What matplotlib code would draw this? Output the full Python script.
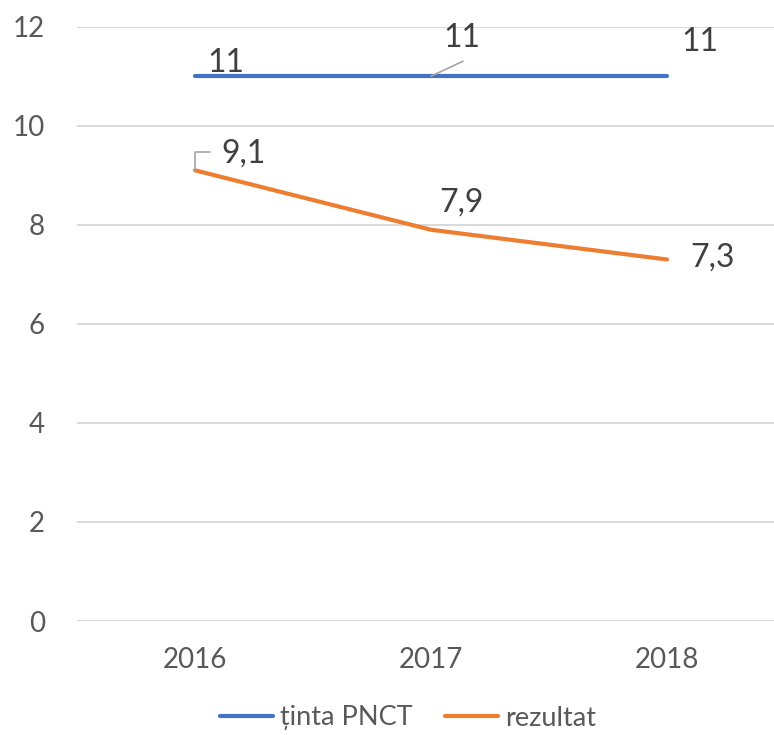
import matplotlib.pyplot as plt

years = ["2016", "2017", "2018"]
tinta = [11, 11, 11]
rezultat = [9.1, 7.9, 7.3]
tinta_labels = ["11", "11", "11"]
rezultat_labels = ["9,1", "7,9", "7,3"]

plt.rcParams['font.family'] = ['Lato', 'DejaVu Sans']

W, H = 774, 735
fig = plt.figure(figsize=(W / 100, H / 100), dpi=100)
ax = fig.add_axes([77 / W, (H - 621) / H, (785 - 77) / W, (621 - 26.7) / H])

x = list(range(len(years)))
ax.plot(x, tinta, color='#4472C4', lw=3, solid_capstyle='round', label='ținta PNCT')
ax.plot(x, rezultat, color='#ED7D31', lw=3, solid_capstyle='round', label='rezultat')

ax.set_xlim(-0.5, 2.5)
ax.set_ylim(0, 12)
ax.set_yticks(range(0, 13, 2))
ax.set_xticks(x)
ax.set_xticklabels(years)
ax.grid(axis='y', color='#D9D9D9', lw=1.4)
ax.set_axisbelow(True)
for s in ax.spines.values():
    s.set_visible(False)
ax.tick_params(axis='both', length=0, labelsize=20, labelcolor='#595959')
ax.tick_params(axis='y', pad=23)
ax.tick_params(axis='x', pad=19)

# data labels (offsets in pixels from the point)
lab_kw = dict(textcoords='offset pixels', ha='center', va='baseline',
              fontsize=23, color='#404040')
tinta_off = [(31, 4), (31, 29), (33, 25)]
rez_off = [(49, 8), (30, 18), (45, -7)]
for i in x:
    ax.annotate(tinta_labels[i], (i, tinta[i]), xytext=tinta_off[i], **lab_kw)
    ax.annotate(rezultat_labels[i], (i, rezultat[i]), xytext=rez_off[i], **lab_kw)

# leader lines
ax.annotate('', (1, tinta[1]), xytext=(32, 15), textcoords='offset pixels',
            arrowprops=dict(arrowstyle='-', color='#A6A6A6', lw=1.2,
                            shrinkA=0, shrinkB=0))
ax.annotate('', (0, rezultat[0]), xytext=(15, 18), textcoords='offset pixels',
            arrowprops=dict(arrowstyle='-', color='#A6A6A6', lw=1.2,
                            shrinkA=0, shrinkB=0,
                            connectionstyle='angle,angleA=0,angleB=90,rad=0'))

fig.legend(loc='center', bbox_to_anchor=(408 / W, (H - 718) / H), ncol=2,
           frameon=False, fontsize=19.5, handlelength=1.95, handletextpad=0.26,
           columnspacing=1.2, labelcolor='#595959')

fig.savefig('out.png', dpi=100)
